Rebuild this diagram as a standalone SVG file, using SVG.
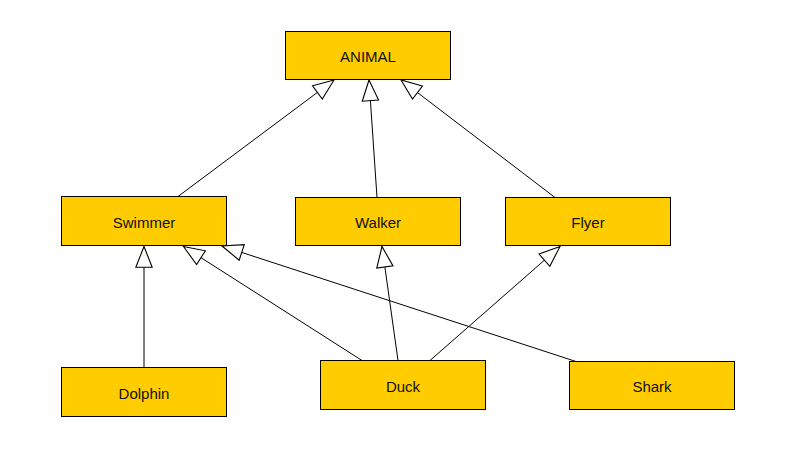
<svg xmlns="http://www.w3.org/2000/svg" width="797" height="459" viewBox="0 0 797 459">
<style>
.box{fill:#ffcc00;stroke:#000;stroke-width:1}
.lbl{font-family:"Liberation Sans",Arial,sans-serif;font-size:15px;fill:#111;text-anchor:middle;dominant-baseline:central}
.edge{stroke:#000;stroke-width:1;fill:none;marker-end:url(#tri)}
</style>
<defs>
<marker id="tri" markerUnits="userSpaceOnUse" markerWidth="24" markerHeight="20" viewBox="-21 -9 22 18" refX="0" refY="0" orient="auto">
<path d="M0,0 L-19,-7.5 L-19,7.5 Z" fill="#fff" stroke="#000" stroke-width="1"/>
</marker>
</defs>
<rect width="797" height="459" fill="#fff"/>
<g id="connectors">
<line class="edge" x1="178" y1="196.5" x2="334" y2="80"/>
<line class="edge" x1="377" y1="197.5" x2="369" y2="80"/>
<line class="edge" x1="555" y1="197.5" x2="401" y2="80"/>
<line class="edge" x1="144" y1="367.5" x2="144" y2="246.5"/>
<line class="edge" x1="362" y1="360.5" x2="183.5" y2="246.5"/>
<line class="edge" x1="576" y1="361.5" x2="222" y2="246"/>
<line class="edge" x1="398" y1="360.5" x2="382" y2="246.5"/>
<line class="edge" x1="430" y1="360.5" x2="560" y2="246.5"/>
</g>
<g id="animal"><rect class="box" x="285.5" y="31.5" width="165" height="48"/><text class="lbl" x="368" y="56">ANIMAL</text></g>
<g id="swimmer"><rect class="box" x="61.5" y="196.5" width="165" height="49"/><text class="lbl" x="144" y="222.5">Swimmer</text></g>
<g id="walker"><rect class="box" x="295.5" y="197.5" width="165" height="48"/><text class="lbl" x="378" y="222.5">Walker</text></g>
<g id="flyer"><rect class="box" x="505.5" y="197.5" width="165" height="48"/><text class="lbl" x="588" y="222.5">Flyer</text></g>
<g id="dolphin"><rect class="box" x="61.5" y="367.5" width="165" height="49"/><text class="lbl" x="144" y="393.5">Dolphin</text></g>
<g id="duck"><rect class="box" x="320.5" y="360.5" width="165" height="49"/><text class="lbl" x="403" y="386">Duck</text></g>
<g id="shark"><rect class="box" x="569.5" y="361.5" width="165" height="48"/><text class="lbl" x="652" y="386">Shark</text></g>
</svg>
